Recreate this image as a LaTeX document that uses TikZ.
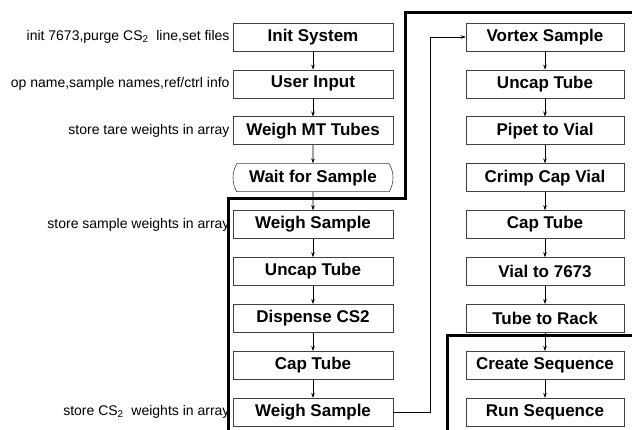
\documentclass[tikz,border=0pt]{standalone}
\usepackage{fontspec}
\setmainfont{Liberation Sans}
\usetikzlibrary{positioning,arrows.meta,shapes.misc}
\tikzset{
  procbox/.style={draw=black!75, line width=0.6pt, minimum width=160pt, minimum height=28pt,
    inner sep=0pt, font=\fontsize{17}{20}\selectfont\bfseries},
  waitbox/.style={procbox, rounded rectangle, rounded rectangle arc length=60},
  note/.style={left=3pt of #1, inner sep=0pt, font=\fontsize{14}{16}\selectfont},
  flow/.style={-{Stealth[length=5pt,width=3.5pt]}, line width=0.6pt},
  region/.style={line width=3pt}
}
\begin{document}
\begin{tikzpicture}[x=1pt,y=1pt]
	\useasboundingbox (0,0) rectangle (632,430);
	%% left column: weighing part
	\node[procbox] (init) at (313,393) {Init System};
	\node[procbox, below=18.3pt of init] (user) {User Input};
	\node[procbox, below=18.3pt of user] (weighmt) {Weigh MT Tubes};
	\node[waitbox, below=18.3pt of weighmt] (wait) {Wait for Sample};
	\node[procbox, below=18.3pt of wait] (weighs) {Weigh Sample};
	\node[procbox, below=18.3pt of weighs] (uncapl) {Uncap Tube};
	\node[procbox, below=18.3pt of uncapl] (dispense) {Dispense CS2};
	\node[procbox, below=18.3pt of dispense] (capl) {Cap Tube};
	\node[procbox, below=18.3pt of capl] (weighcs) {Weigh Sample};
	%% right column: vial part
	\node[procbox, minimum width=158pt] (vortex) at (545,393) {Vortex Sample};
	\node[procbox, minimum width=158pt, below=18.3pt of vortex] (uncapr) {Uncap Tube};
	\node[procbox, minimum width=158pt, below=18.3pt of uncapr] (pipet) {Pipet to Vial};
	\node[procbox, minimum width=158pt, below=18.3pt of pipet] (crimp) {Crimp Cap Vial};
	\node[procbox, minimum width=158pt, below=18.3pt of crimp] (capr) {Cap Tube};
	\node[procbox, minimum width=158pt, below=18.3pt of capr] (vial) {Vial to 7673};
	\node[procbox, minimum width=158pt, below=18.3pt of vial] (rack) {Tube to Rack};
	\node[procbox, minimum width=158pt, below=18.3pt of rack] (create) {Create Sequence};
	\node[procbox, minimum width=158pt, below=18.3pt of create] (run) {Run Sequence};
	%% notes next to the boxes
	\node[note=init] (noteinit) {init 7673,purge CS\textsubscript{2}\ \ line,set files};
	\node[note=user] (noteuser) {op name,sample names,ref/ctrl info};
	\node[note=weighmt] (notetare) {store tare weights in array};
	\node[note=weighs] (notesample) {store sample weights in array};
	\node[note=weighcs] (notecs) {store CS\textsubscript{2}\ \ weights in array};
	%% arrows
	\foreach \a/\b in {init/user, user/weighmt, weighmt/wait, wait/weighs, weighs/uncapl,
	  uncapl/dispense, dispense/capl, capl/weighcs, vortex/uncapr, uncapr/pipet, pipet/crimp,
	  crimp/capr, capr/vial, vial/rack, rack/create, create/run}
	  \draw[flow] (\a) -- (\b);
	\draw[flow] (weighcs.east) -- ++(37,0) |- (vortex.west);
	%% thick outlines of the parts
	\draw[region] (228,0) -- (228,231) -- (405,231) -- (405,417) -- (632,417);
	\draw[region] (447,0) -- (447,94) -- (632,94);
\end{tikzpicture}
\end{document}
